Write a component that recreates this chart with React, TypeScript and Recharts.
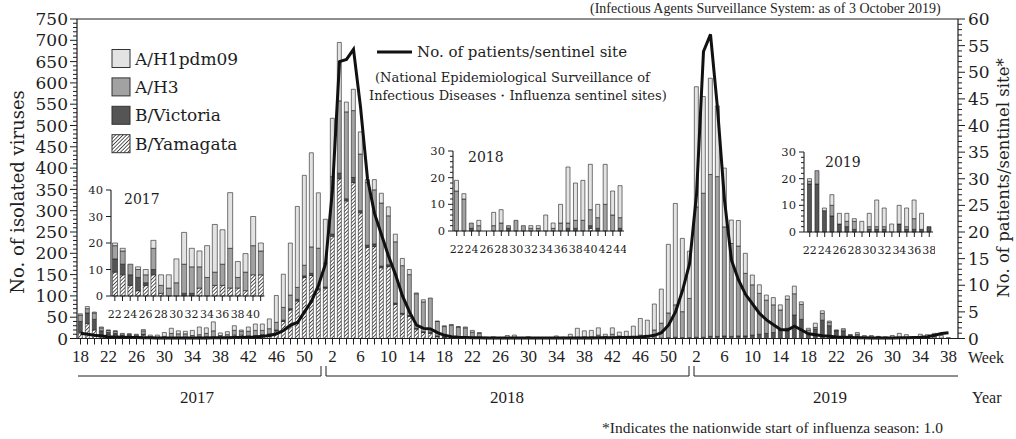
import React from 'react';
import { ComposedChart, BarChart, Bar, Line, XAxis, YAxis, ReferenceLine } from 'recharts';

const span = (a: number, b: number) => Array.from({ length: b - a + 1 }, (_, i) => a + i);

// weeks shown on the main chart
const weeks2017 = span(18, 52);
const weeks2018 = span(1, 52);
const weeks2019 = span(1, 38);

// isolated viruses per week
const yam2017 = [15, 35, 20, 8, 9, 8, 4, 2, 4, 8, 1, 0, 0, 0, 0, 3, 0, 4, 4, 3, 3, 2, 8, 8, 5, 6, 8, 10, 18, 40, 67, 88, 143, 148, 114];
const vic2017 = [25, 25, 25, 10, 5, 4, 4, 5, 1, 2, 0, 0, 0, 1, 1, 0, 0, 0, 0, 0, 0, 0, 0, 0, 1, 1, 1, 1, 2, 3, 3, 4, 4, 5, 3];
const h3_2017 = [15, 10, 15, 7, 5, 5, 4, 3, 3, 8, 3, 3, 5, 11, 10, 8, 7, 5, 8, 15, 4, 7, 11, 9, 11, 12, 10, 12, 18, 30, 32, 28, 25, 62, 95];
const h1_2017 = [3, 5, 2, 2, 1, 1, 0, 1, 2, 3, 4, 5, 9, 12, 7, 6, 12, 18, 13, 21, 6, 7, 11, 3, 10, 15, 15, 23, 63, 78, 122, 190, 211, 221, 130];

const yam2018 = [118, 240, 375, 323, 366, 295, 214, 216, 166, 169, 80, 57, 52, 22, 14, 12, 4, 2, 1, 1, 1, 0, 0, 0, 0, 0, 0, 0, 0, 0, 0, 0, 0, 0, 0, 0, 0, 0, 0, 1, 0, 0, 0, 0, 0, 0, 0, 0, 0, 0, 0, 0];
const vic2018 = [3, 5, 13, 5, 12, 5, 5, 6, 4, 4, 3, 2, 2, 2, 2, 3, 2, 2, 3, 2, 1, 0, 0, 1, 0, 0, 0, 0, 1, 0, 0, 0, 0, 0, 0, 0, 1, 1, 0, 1, 1, 0, 0, 1, 0, 0, 0, 1, 1, 2, 3, 2];
const h3_2018 = [56, 135, 170, 204, 157, 133, 147, 127, 148, 115, 144, 112, 96, 81, 70, 80, 34, 24, 27, 24, 23, 15, 12, 2, 2, 0, 2, 3, 1, 4, 2, 1, 1, 0, 1, 3, 2, 3, 4, 6, 4, 10, 6, 4, 4, 8, 6, 19, 35, 58, 76, 61];
const h1_2018 = [103, 137, 137, 23, 50, 52, 7, 24, 23, 21, 18, 17, 12, 2, 5, 0, 1, 2, 2, 1, 2, 4, 2, 0, 2, 0, 5, 5, 0, 0, 0, 1, 1, 6, 2, 7, 21, 14, 15, 17, 5, 15, 9, 12, 25, 39, 37, 61, 80, 161, 238, 172];

const yam2019 = [0, 0, 0, 0, 0, 0, 0, 0, 0, 0, 0, 0, 0, 0, 0, 0, 0, 0, 0, 0, 0, 0, 0, 0, 0, 0, 0, 0, 0, 0, 0, 0, 0, 0, 0, 0, 0, 0];
const vic2019 = [2, 3, 3, 5, 5, 6, 5, 6, 6, 8, 10, 12, 14, 20, 24, 55, 45, 12, 22, 43, 30, 18, 18, 8, 6, 3, 2, 1, 0, 1, 1, 1, 0, 3, 1, 1, 1, 2];
const h3_2019 = [92, 306, 338, 380, 375, 256, 218, 211, 147, 118, 96, 78, 65, 47, 68, 50, 35, 8, 4, 16, 8, 1, 5, 0, 4, 0, 2, 3, 0, 1, 1, 1, 0, 0, 1, 4, 0, 0];
const h1_2019 = [111, 282, 227, 226, 166, 138, 55, 60, 47, 23, 20, 12, 17, 12, 8, 18, 6, 4, 10, 6, 3, 1, 0, 1, 4, 4, 3, 1, 4, 5, 10, 7, 3, 7, 7, 7, 6, 0];

// patients per sentinel site
const pat2017 = [1.0, 0.8, 0.6, 0.45, 0.35, 0.3, 0.25, 0.2, 0.2, 0.15, 0.15, 0.1, 0.1, 0.1, 0.1, 0.1, 0.1, 0.1, 0.1, 0.15, 0.15, 0.15, 0.2, 0.2, 0.25, 0.3, 0.4, 0.55, 0.9, 1.5, 2.5, 3.0, 5.0, 7.0, 10.0];
const pat2018 = [14, 28, 52, 52.4, 54.3, 43.5, 30, 23.5, 19.5, 15.5, 12, 8, 5, 2.5, 1.9, 1.8, 1.1, 0.6, 0.35, 0.25, 0.2, 0.15, 0.12, 0.1, 0.1, 0.08, 0.08, 0.08, 0.08, 0.08, 0.08, 0.08, 0.08, 0.08, 0.08, 0.1, 0.1, 0.1, 0.1, 0.12, 0.15, 0.15, 0.2, 0.2, 0.25, 0.3, 0.4, 0.6, 1.1, 2.5, 5.0, 9.0];
const pat2019 = [14, 27, 53.9, 57.1, 43.2, 26, 14.7, 11, 8.3, 6.5, 4.7, 3.5, 2.6, 1.7, 1.6, 2.3, 1.6, 0.9, 0.7, 0.5, 0.4, 0.3, 0.25, 0.2, 0.15, 0.12, 0.1, 0.1, 0.1, 0.1, 0.12, 0.15, 0.2, 0.25, 0.35, 0.6, 0.95, 1.1];

const leftMajor = [0, 50, 100, 150, 200, 250, 300, 350, 400, 450, 500, 550, 600, 650, 700, 750];
const rightMajor = [0, 5, 10, 15, 20, 25, 30, 35, 40, 45, 50, 55, 60];
const leftTicks = span(0, 75).map((i) => i * 10);
const rightTicks = span(0, 60);

const years = [
  { year: 2017, weeks: weeks2017, yam: yam2017, vic: vic2017, h3: h3_2017, h1: h1_2017, pat: pat2017 },
  { year: 2018, weeks: weeks2018, yam: yam2018, vic: vic2018, h3: h3_2018, h1: h1_2018, pat: pat2018 },
  { year: 2019, weeks: weeks2019, yam: yam2019, vic: vic2019, h3: h3_2019, h1: h1_2019, pat: pat2019 },
];

const rows = years.flatMap((y) =>
  y.weeks.map((w, i) => ({
    key: `${y.year}-${w}`,
    year: y.year,
    week: w,
    yam: y.yam[i],
    vic: y.vic[i],
    h3: y.h3[i],
    h1: y.h1[i],
    pat: y.pat[i],
  }))
);
const keys = rows.map((r) => r.key);

const pick = (year: number, from: number, to: number) =>
  rows.filter((r) => r.year === year && r.week >= from && r.week <= to);

const SERIF = '"DejaVu Serif", serif';
const TIMES = '"Liberation Serif", serif';
const INK = '#1e1e1e';
const FILL_H1 = '#e3e3e3';
const FILL_H3 = '#a2a2a2';
const FILL_VIC = '#555555';

const Hatch = ({ id }: { id: string }) => (
  <pattern id={id} patternUnits="userSpaceOnUse" width="2.6" height="2.6" patternTransform="rotate(45)">
    <rect width="2.6" height="2.6" fill="#fff" />
    <line x1="0" y1="0" x2="0" y2="2.6" stroke="#262626" strokeWidth="1.5" />
  </pattern>
);

const WeekTick = (p: any) => {
  const i = keys.indexOf(p.payload.value);
  if (i % 4 !== 0) return <g />;
  return (
    <text x={p.x} y={p.y} dy={15.5} textAnchor="middle" fontFamily={TIMES} fontSize={17} fill={INK}>
      {rows[i].week}
    </text>
  );
};

const LeftTick = (p: any) => {
  const v = p.payload.value;
  const major = leftMajor.includes(v);
  return (
    <g>
      <line x1={p.x - (major ? 7 : 4)} x2={p.x} y1={p.y} y2={p.y} stroke={INK} strokeWidth={1} />
      {major && (
        <text x={p.x - 9} y={p.y} dy="0.36em" textAnchor="end" fontFamily={SERIF} fontSize={17} fill={INK}>
          {v}
        </text>
      )}
    </g>
  );
};

const RightTick = (p: any) => {
  const v = p.payload.value;
  const major = rightMajor.includes(v);
  return (
    <g>
      <line x1={p.x} x2={p.x + (major ? 7 : 4)} y1={p.y} y2={p.y} stroke={INK} strokeWidth={1} />
      {major && (
        <text x={p.x + 10} y={p.y} dy="0.36em" textAnchor="start" fontFamily={SERIF} fontSize={17} fill={INK}>
          {v}
        </text>
      )}
    </g>
  );
};

const InsetWeekTick = (p: any) => {
  const w = Number(p.payload.value);
  if (w % 2 !== 0) return <g />;
  return (
    <text x={p.x} y={p.y} dy={15} textAnchor="middle" fontFamily={SERIF} fontSize={11} fill={INK}>
      {w}
    </text>
  );
};

const makeInsetYTick = (labelEvery: number) => (p: any) => {
  const v = p.payload.value;
  const major = v % labelEvery === 0;
  return (
    <g>
      <line x1={p.x - (major ? 5 : 3)} x2={p.x} y1={p.y} y2={p.y} stroke={INK} strokeWidth={1} />
      {major && (
        <text x={p.x - 8} y={p.y} dy="0.36em" textAnchor="end" fontFamily={SERIF} fontSize={11.5} fill={INK}>
          {v}
        </text>
      )}
    </g>
  );
};

const stackBars = (hatchId: string, yAxisId?: string) => {
  const common: any = { stackId: 's', stroke: INK, strokeWidth: 0.6, isAnimationActive: false };
  if (yAxisId) common.yAxisId = yAxisId;
  return [
    <Bar key="yam" dataKey="yam" fill={`url(#${hatchId})`} {...common} />,
    <Bar key="vic" dataKey="vic" fill={FILL_VIC} {...common} />,
    <Bar key="h3" dataKey="h3" fill={FILL_H3} {...common} />,
    <Bar key="h1" dataKey="h1" fill={FILL_H1} {...common} />,
  ];
};

type InsetProps = {
  id: string;
  data: any[];
  left: number;
  top: number;
  plotW: number;
  plotH: number;
  max: number;
  ticks: number[];
  padLeft: number;
};

const Inset = ({ id, data, left, top, plotW, plotH, max, ticks, padLeft }: InsetProps) => (
  <div style={{ position: 'absolute', left, top }}>
    <BarChart
      width={28 + plotW + 2}
      height={8 + plotH + 25}
      data={data}
      margin={{ top: 8, right: 2, bottom: 0, left: 0 }}
      barCategoryGap="20%"
    >
      <defs>
        <Hatch id={id} />
      </defs>
      <XAxis
        dataKey="week"
        interval={0}
        height={25}
        tickSize={5}
        padding={{ left: padLeft, right: 0 }}
        tickLine={{ stroke: INK }}
        axisLine={{ stroke: INK, strokeWidth: 1.1 }}
        tick={InsetWeekTick}
      />
      <YAxis
        domain={[0, max]}
        ticks={ticks}
        interval={0}
        width={28}
        tickSize={0}
        tickMargin={0}
        tickLine={false}
        axisLine={{ stroke: INK, strokeWidth: 1.1 }}
        tick={makeInsetYTick(10)}
      />
      {stackBars(id)}
    </BarChart>
  </div>
);

const legendItems = [
  { label: 'A/H1pdm09', fill: FILL_H1 },
  { label: 'A/H3', fill: FILL_H3 },
  { label: 'B/Victoria', fill: FILL_VIC },
  { label: 'B/Yamagata', fill: 'url(#hatch-leg)' },
];

export default function App() {
  return (
    <div style={{ position: 'absolute', left: 0, top: 0, width: 1016, height: 439, background: '#fff', overflow: 'hidden' }}>
      <ComposedChart
        width={1016}
        height={439}
        data={rows}
        margin={{ top: 19, right: 0, bottom: 70.5, left: 0 }}
        barCategoryGap="19%"
      >
        <defs>
          <Hatch id="hatch-main" />
        </defs>
        <XAxis
          dataKey="key"
          interval={0}
          height={30}
          padding={{ left: 0, right: 6 }}
          tickSize={6}
          tickLine={{ stroke: INK }}
          axisLine={{ stroke: INK, strokeWidth: 1.2 }}
          tick={WeekTick}
        />
        <YAxis
          yAxisId="left"
          domain={[0, 750]}
          ticks={leftTicks}
          interval={0}
          width={77}
          tickSize={0}
          tickMargin={0}
          tickLine={false}
          axisLine={{ stroke: INK, strokeWidth: 1.2 }}
          tick={LeftTick}
        />
        <YAxis
          yAxisId="right"
          orientation="right"
          domain={[0, 60]}
          ticks={rightTicks}
          interval={0}
          width={58}
          tickSize={0}
          tickMargin={0}
          tickLine={false}
          axisLine={{ stroke: INK, strokeWidth: 1.2 }}
          tick={RightTick}
        />
        <ReferenceLine yAxisId="left" y={750} stroke={INK} strokeWidth={1.2} />
        {stackBars('hatch-main', 'left')}
        <Line
          yAxisId="right"
          dataKey="pat"
          type="linear"
          stroke="#111"
          strokeWidth={3}
          dot={false}
          activeDot={false}
          isAnimationActive={false}
        />
      </ComposedChart>

      <Inset id="hatch-i17" data={pick(2017, 22, 41)} left={82.5} top={182} plotW={153.5} plotH={106} max={40} ticks={[0, 10, 20, 30, 40]} padLeft={0} />
      <Inset id="hatch-i18" data={pick(2018, 22, 44)} left={425} top={142.5} plotW={171} plotH={80} max={30} ticks={span(0, 15).map((i) => i * 2)} padLeft={0} />
      <Inset id="hatch-i19" data={pick(2019, 22, 38)} left={776} top={144.3} plotW={129} plotH={80} max={30} ticks={span(0, 15).map((i) => i * 2)} padLeft={2} />

      <svg width={1016} height={439} style={{ position: 'absolute', left: 0, top: 0, pointerEvents: 'none' }}>
        <defs>
          <Hatch id="hatch-leg" />
        </defs>
        <g fill={INK}>
          <text x={590} y={13} fontFamily={TIMES} fontSize={14}>
            (Infectious Agents Surveillance System: as of 3 October 2019)
          </text>
          <text transform="translate(17,192) rotate(-90)" textAnchor="middle" dominantBaseline="central" fontFamily={SERIF} fontSize={18}>
            No. of isolated viruses
          </text>
          <text transform="translate(1003,178) rotate(-90)" textAnchor="middle" dominantBaseline="central" fontFamily={SERIF} fontSize={16.5}>
            No. of patients/sentinel site*
          </text>

          {legendItems.map((it, i) => (
            <g key={it.label}>
              <rect x={112} y={49.5 + i * 28.4} width={18} height={18} fill={it.fill} stroke="#333" strokeWidth={1} />
              <text x={135} y={58.5 + i * 28.4} dominantBaseline="central" fontFamily={SERIF} fontSize={17}>
                {it.label}
              </text>
            </g>
          ))}

          <line x1={377} x2={412} y1={52} y2={52} stroke="#111" strokeWidth={3} />
          <text x={417} y={52} dominantBaseline="central" fontFamily={SERIF} fontSize={15}>
            No. of patients/sentinel site
          </text>
          <text x={375} y={77} dominantBaseline="central" fontFamily={SERIF} fontSize={13}>
            (National Epidemiological Surveillance of
          </text>
          <text x={369} y={95} dominantBaseline="central" fontFamily={SERIF} fontSize={13}>
            Infectious Diseases・Influenza sentinel sites)
          </text>

          <text x={124} y={199} dominantBaseline="central" fontFamily={SERIF} fontSize={14}>2017</text>
          <text x={468} y={157} dominantBaseline="central" fontFamily={SERIF} fontSize={14}>2018</text>
          <text x={825} y={162} dominantBaseline="central" fontFamily={SERIF} fontSize={14}>2019</text>

          <text x={968} y={363} fontFamily={TIMES} fontSize={16}>Week</text>

          <path d="M78,376 H321 V366 M326,366 V376 H689 V366 M694,366 V376 H958" fill="none" stroke={INK} strokeWidth={1} />
          <text x={197} y={403} textAnchor="middle" fontFamily={TIMES} fontSize={17}>2017</text>
          <text x={507} y={403} textAnchor="middle" fontFamily={TIMES} fontSize={17}>2018</text>
          <text x={830} y={403} textAnchor="middle" fontFamily={TIMES} fontSize={17}>2019</text>
          <text x={972} y={403} fontFamily={TIMES} fontSize={16}>Year</text>

          <text x={602} y={433} fontFamily={TIMES} fontSize={15.5}>
            *Indicates the nationwide start of influenza season: 1.0
          </text>
        </g>
      </svg>
    </div>
  );
}
